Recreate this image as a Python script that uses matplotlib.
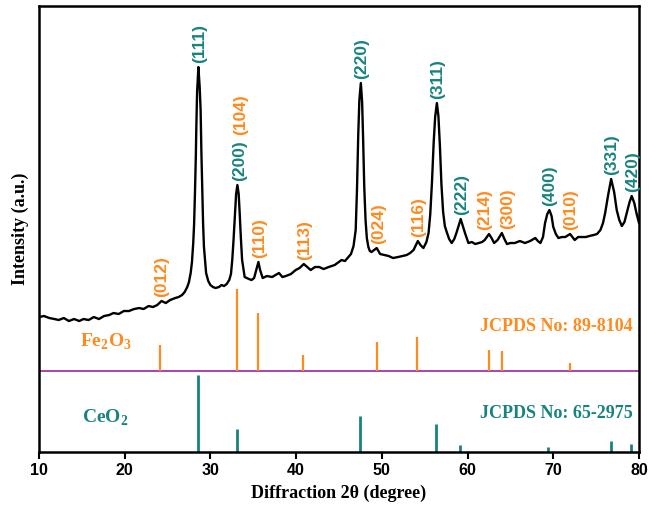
import numpy as np
import matplotlib.pyplot as plt

plt.rcParams['mathtext.fontset'] = 'custom'

# measured XRD pattern (2theta, intensity a.u.)
two_theta = [10.0, 10.6, 11.2, 11.8, 12.3, 12.9, 13.5, 14.1, 14.7, 15.2, 15.8, 16.4,
             17.0, 17.6, 18.2, 18.7, 19.3, 19.9, 20.5, 21.1, 21.7, 22.2, 22.8, 23.3,
             23.8, 24.3, 24.8, 25.3, 25.9, 26.3, 26.7, 27.0, 27.3, 27.5, 27.7, 27.85,
             28.0, 28.1, 28.2, 28.3, 28.36, 28.45, 28.6, 28.75, 28.86, 28.95, 29.06,
             29.15, 29.25, 29.5, 29.75, 30.0, 30.3, 30.6, 31.0, 31.3, 31.6, 31.9, 32.2,
             32.4, 32.55, 32.7, 32.9, 33.0, 33.15, 33.3, 33.4, 33.55, 33.7, 34.0, 34.5,
             34.8, 35.1, 35.35, 35.6, 35.8, 36.1, 36.6, 37.2, 37.6, 38.0, 38.4, 38.8,
             39.4, 39.95, 40.4, 40.9, 41.3, 41.7, 42.2, 42.7, 43.2, 43.8, 44.5, 45.3,
             45.7, 46.1, 46.4, 46.7, 46.95, 47.1, 47.25, 47.38, 47.55, 47.7, 47.82, 47.95,
             48.1, 48.25, 48.43, 48.6, 48.8, 49.1, 49.4, 49.8, 50.3, 50.8, 51.3, 51.9,
             52.4, 52.9, 53.3, 53.7, 54.2, 54.5, 54.85, 55.2, 55.45, 55.65, 55.85, 56.05,
             56.22, 56.42, 56.6, 56.78, 56.95, 57.15, 57.35, 57.57, 57.85, 58.15, 58.45,
             58.7, 58.95, 59.2, 59.45, 59.7, 60.1, 60.5, 60.9, 61.3, 61.7, 62.0, 62.5,
             62.8, 63.1, 63.5, 64.0, 64.3, 64.6, 65.0, 65.5, 66.1, 66.7, 67.3, 67.9,
             68.2, 68.5, 68.8, 69.04, 69.3, 69.55, 69.8, 70.0, 70.3, 70.6, 71.0, 71.4,
             71.96, 72.5, 72.9, 73.3, 73.8, 74.2, 74.7, 75.1, 75.5, 75.8, 76.05, 76.4,
             76.75, 77.1, 77.4, 77.7, 78.0, 78.3, 78.57, 78.9, 79.15, 79.45, 79.7, 80.0]
intensity = [135, 136, 134, 133, 132, 134, 131, 133, 131, 133, 132, 135,
             133, 136, 137, 139, 138, 141, 141, 143, 144, 143, 146, 145,
             147, 151, 149, 152, 154, 155, 157, 160, 165, 170, 179, 190,
             209, 228, 259, 295, 325, 360, 385, 365, 342, 300, 259,
             228, 205, 179, 171, 167, 165, 164, 165, 167, 166, 168, 172,
             178, 192, 212, 242, 258, 267, 258, 242, 215, 192, 175, 173,
             172, 174, 182, 190, 182, 174, 176, 175, 177, 179, 175, 176,
             178, 182, 184, 188, 185, 182, 185, 185, 183, 185, 187, 192,
             191, 195, 198, 206, 222, 262, 318, 352, 369, 350, 312, 265,
             232, 214, 205, 201, 200, 202, 204, 198, 197, 196, 194, 195,
             196, 197, 199, 202, 211, 207, 204, 210, 219, 238, 270, 310,
             335, 349, 336, 305, 268, 240, 226, 220, 213, 209, 213,
             219, 226, 233, 226, 219, 209, 210, 208, 209, 210, 212, 218,
             214, 209, 212, 219, 213, 208, 209, 209, 211, 209, 211, 214,
             211, 209, 215, 229, 238, 242, 236, 225, 218, 214, 215, 215,
             218, 212, 215, 215, 215, 216, 217, 218, 222, 229, 239, 257,
             273, 260, 242, 232, 226, 230, 239, 250, 256, 249, 239, 229]

# JCPDS reference sticks
fe_pos = [24.14, 33.15, 35.61, 40.85, 49.48, 54.09, 62.45, 63.99, 71.9]
fe_int = [32, 100, 71, 20, 35, 41, 26, 25, 10]
fe_hkl = ['(012)', '(104)', '(110)', '(113)', '(024)', '(116)', '(214)', '(300)', '(010)']
ce_pos = [28.55, 33.08, 47.48, 56.34, 59.09, 69.42, 76.7, 79.07]
ce_int = [100, 30, 47, 37, 9, 7, 14, 10]
ce_hkl = ['(111)', '(200)', '(220)', '(311)', '(222)', '(400)', '(331)', '(420)']

orange = '#FF8A1E'
teal = '#17837F'
sans = 'Liberation Sans'
serif = 'Liberation Serif'

fig = plt.figure(figsize=(6.49, 5.15), dpi=100)
ax = fig.add_axes([0.060, 0.1223, 0.9246, 0.866])

ax.plot(two_theta, intensity, color='black', lw=1.7)

fe_base = 81
ax.axhline(fe_base, color='#A020A0', lw=1.2)
ax.vlines(fe_pos, fe_base, fe_base + np.array(fe_int) * 0.82, color=orange, lw=1.6)
ax.vlines(ce_pos, 0, np.array(ce_int) * 0.77, color=teal, lw=2.0)

tt = np.array(two_theta)
yy = np.array(intensity)

# small nudges (points) so neighbouring labels don't collide
nudge = {'(104)': (2, 33), '(200)': (2, 0), '(214)': (-2.5, 0), '(300)': (4, 0)}


def label_peaks(pos, hkl, color):
    for p, lab in zip(pos, hkl):
        near = (tt > p - 0.45) & (tt < p + 0.45)
        top = yy[near].max()
        dx, dy = nudge.get(lab, (1, 0))
        ax.annotate(lab, (p, top), xytext=(dx, 3 + dy), textcoords='offset points',
                    rotation=90, ha='center', va='bottom', color=color,
                    fontsize=12.5, fontweight='bold', family=sans)


label_peaks(ce_pos, ce_hkl, teal)
label_peaks(fe_pos, fe_hkl, orange)

ax.text(14.8, 105, r'Fe$_\mathregular{2}$O$_\mathregular{3}$', color=orange,
        fontsize=14, fontweight='bold', family=serif)
ax.text(15.0, 29, r'CeO$_\mathregular{2}$', color=teal,
        fontsize=14, fontweight='bold', family=serif)
ax.text(79.3, 121, 'JCPDS No: 89-8104', color=orange, ha='right',
        fontsize=13, fontweight='bold', family=serif)
ax.text(79.3, 34, 'JCPDS No: 65-2975', color=teal, ha='right',
        fontsize=13, fontweight='bold', family=serif)

ax.set_xlim(10, 80)
ax.set_ylim(0, 446)
ax.set_yticks([])
ax.set_xticks(range(10, 81, 10))
ax.tick_params(axis='x', direction='out', length=5, width=1.5, pad=3)
for t in ax.get_xticklabels():
    t.set_fontweight('bold')
    t.set_family(sans)
    t.set_fontsize(11.5)
for s in ax.spines.values():
    s.set_linewidth(1.8)

ax.set_xlabel('Diffraction 2θ (degree)', fontsize=13, fontweight='bold', family=serif, labelpad=5)
ax.set_ylabel('Intensity (a.u.)', fontsize=13, fontweight='bold', family=serif, labelpad=7)

fig.savefig('out.png', dpi=100)
